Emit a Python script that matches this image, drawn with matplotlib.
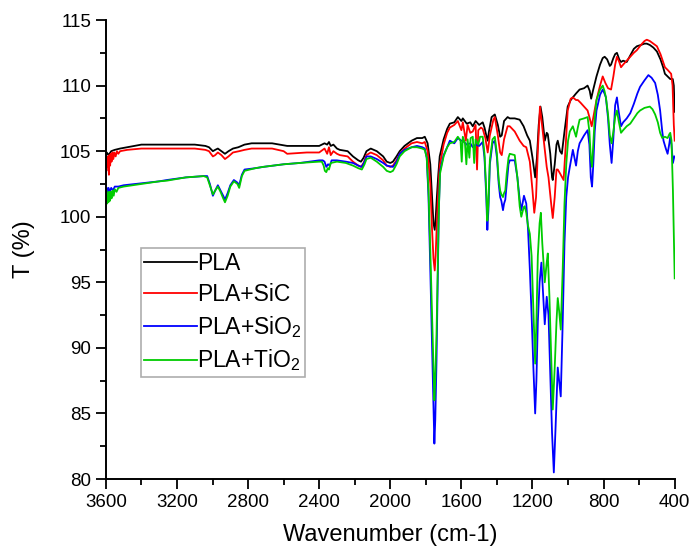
import matplotlib
matplotlib.use("Agg")
import matplotlib.pyplot as plt
from matplotlib.ticker import MultipleLocator

plt.rcParams['font.family'] = ['Liberation Sans', 'DejaVu Sans']
plt.rcParams['mathtext.fontset'] = 'custom'
plt.rcParams['mathtext.rm'] = 'Liberation Sans'
plt.rcParams['mathtext.it'] = 'Liberation Sans'
plt.rcParams['mathtext.default'] = 'regular'

labels = ["PLA", "PLA+SiC", r"PLA+SiO$_2$", r"PLA+TiO$_2$"]
colors = ["#000000", "#ff0000", "#0000ff", "#00cc00"]

pla = [
(3600,104.6),(3595,104.9),(3585,104.7),(3570,105.0),(3550,105.1),(3520,105.2),(3480,105.3),(3400,105.5),
(3300,105.5),(3200,105.5),(3100,105.5),(3040,105.4),(3020,105.3),(2998,105.0),(2985,105.1),(2970,105.2),
(2950,105.0),(2930,104.8),(2910,105.0),(2885,105.2),(2855,105.3),(2820,105.5),(2780,105.6),(2700,105.6),
(2665,105.6),(2580,105.4),(2470,105.4),(2400,105.4),(2370,105.6),(2355,105.5),(2345,105.7),(2335,105.4),
(2320,105.5),(2300,105.2),(2284,105.1),(2240,105.0),(2210,104.6),(2180,104.3),(2165,104.2),(2150,104.5),
(2134,105.0),(2110,105.2),(2076,105.0),(2040,104.6),(2020,104.2),(2000,104.1),(1985,104.2),(1965,104.6),
(1947,105.0),(1920,105.4),(1880,105.8),(1850,106.0),(1820,106.0),(1806,106.1),(1790,105.6),(1775,104.0),
(1765,101.5),(1757,99.5),(1750,99.0),(1745,99.8),(1738,101.5),(1730,103.2),(1722,104.6),(1700,105.9),
(1680,106.7),(1665,107.1),(1640,107.2),(1620,107.6),(1600,107.3),(1592,107.5),(1570,107.1),(1550,107.2),
(1536,106.9),(1520,107.3),(1500,107.0),(1480,107.2),(1470,106.8),(1460,106.2),(1452,105.8),(1445,106.5),
(1430,107.6),(1412,107.8),(1395,107.0),(1382,106.1),(1373,106.2),(1360,107.3),(1340,107.6),(1328,107.5),
(1300,107.5),(1272,107.4),(1250,106.9),(1230,106.2),(1215,105.8),(1200,104.5),(1185,103.0),(1175,104.5),
(1165,107.0),(1155,108.4),(1145,107.6),(1131,105.8),(1120,106.4),(1114,106.3),(1100,104.8),(1090,103.0),
(1086,102.8),(1075,104.0),(1065,105.5),(1058,105.8),(1045,105.0),(1035,104.8),(1020,106.5),(1002,108.4),
(985,108.9),(973,109.1),(955,109.4),(935,109.7),(910,109.8),(890,110.0),(878,109.6),(870,109.0),
(860,109.6),(840,110.7),(820,111.6),(805,112.1),(794,112.2),(780,112.0),(765,111.5),(758,111.6),
(745,112.1),(735,112.4),(725,112.5),(712,112.0),(702,111.8),(690,111.9),(670,111.8),(650,112.3),
(630,112.8),(613,113.0),(590,113.1),(570,113.2),(557,113.2),(540,113.1),(520,112.9),(500,112.6),
(480,112.0),(465,111.4),(455,110.9),(440,110.7),(425,110.5),(411,110.5),(405,110.0),(400,108.0)]

sic = [
(3600,104.3),(3597,103.5),(3594,104.5),(3590,103.8),(3587,104.6),(3583,103.2),(3580,104.7),(3576,103.9),
(3572,104.8),(3568,104.2),(3563,104.9),(3558,104.4),(3552,104.9),(3545,104.6),(3538,105.0),(3530,104.8),
(3520,105.0),(3480,105.1),(3400,105.2),(3300,105.2),(3100,105.2),(3040,105.1),(3020,105.0),(2998,104.6),
(2985,104.7),(2970,104.9),(2950,104.7),(2930,104.4),(2910,104.6),(2885,104.9),(2850,105.0),(2820,105.1),
(2780,105.2),(2665,105.2),(2600,105.0),(2580,104.8),(2470,104.9),(2400,104.9),(2370,105.2),(2355,104.8),
(2345,105.3),(2335,104.7),(2320,105.0),(2300,104.8),(2284,104.7),(2240,104.6),(2210,104.2),(2180,103.9),
(2165,103.8),(2150,104.1),(2134,104.7),(2110,104.9),(2076,104.7),(2040,104.3),(2020,103.9),(2000,103.8),
(1985,103.9),(1965,104.3),(1947,104.8),(1920,105.2),(1880,105.6),(1850,105.7),(1820,105.6),(1806,105.7),
(1790,105.0),(1775,102.5),(1765,99.0),(1757,96.8),(1750,95.9),(1745,97.0),(1738,99.5),(1730,102.0),
(1722,103.9),(1700,105.5),(1680,106.4),(1665,106.8),(1640,107.0),(1620,107.3),(1600,106.6),(1592,107.2),
(1575,105.8),(1565,107.0),(1550,106.4),(1536,106.5),(1520,107.0),(1512,103.6),(1505,106.6),(1490,106.8),
(1480,106.7),(1465,106.0),(1452,104.9),(1440,106.2),(1420,107.4),(1412,107.6),(1395,106.2),(1382,104.9),
(1373,104.7),(1360,105.9),(1340,106.9),(1328,106.9),(1300,106.5),(1272,105.8),(1250,105.4),(1235,105.3),
(1215,104.2),(1200,102.0),(1190,100.3),(1180,101.5),(1170,105.0),(1158,108.4),(1145,106.8),(1131,105.1),
(1120,103.8),(1110,103.0),(1095,101.0),(1086,99.9),(1075,101.5),(1065,103.6),(1058,103.6),(1045,103.3),
(1025,102.8),(1015,105.0),(1002,108.1),(985,109.0),(973,109.1),(955,108.9),(945,108.9),(930,108.7),
(910,108.4),(890,108.1),(878,107.5),(867,106.9),(855,107.8),(840,108.9),(820,110.0),(805,110.7),
(790,110.2),(775,109.8),(758,109.7),(745,110.7),(735,111.6),(725,112.2),(712,111.8),(702,111.4),
(690,111.6),(670,111.9),(650,112.2),(630,112.5),(613,112.7),(590,113.1),(570,113.4),(557,113.5),
(540,113.4),(520,113.2),(500,113.0),(480,112.4),(465,111.8),(455,111.4),(440,111.2),(420,110.9),
(412,110.0),(405,107.0),(400,105.8)]

sio2 = [
(3600,101.9),(3595,102.2),(3590,101.8),(3585,102.2),(3578,101.9),(3570,102.2),(3560,102.0),(3550,102.3),
(3530,102.3),(3500,102.4),(3400,102.55),(3300,102.7),(3257,102.8),(3150,103.0),(3050,103.1),(3030,103.1),
(3015,102.5),(2998,101.6),(2985,102.0),(2970,102.4),(2955,102.0),(2940,101.6),(2930,101.3),(2915,101.8),
(2900,102.4),(2880,102.8),(2860,102.6),(2850,102.4),(2835,103.2),(2820,103.6),(2760,103.7),(2716,103.8),
(2600,104.0),(2509,104.1),(2400,104.3),(2380,104.3),(2370,104.2),(2360,103.8),(2350,104.0),(2340,103.9),
(2330,104.3),(2300,104.3),(2250,104.2),(2210,104.1),(2180,103.9),(2160,103.8),(2145,104.2),(2134,104.6),
(2110,104.6),(2076,104.4),(2040,104.1),(2020,103.9),(1985,103.8),(1965,104.2),(1947,104.8),(1920,105.1),
(1880,105.3),(1850,105.4),(1820,105.3),(1806,105.2),(1795,104.5),(1785,101.5),(1775,96.0),(1765,90.0),
(1757,85.5),(1752,82.7),(1747,84.5),(1740,89.0),(1733,95.0),(1727,100.5),(1720,103.5),(1700,104.7),
(1680,105.3),(1665,105.8),(1640,105.6),(1620,106.0),(1600,105.8),(1592,105.8),(1570,105.5),(1550,105.6),
(1536,105.3),(1520,105.5),(1500,105.4),(1480,105.7),(1470,104.5),(1460,101.5),(1454,99.0),(1448,100.5),
(1440,104.0),(1425,105.6),(1412,105.8),(1400,104.5),(1390,102.5),(1382,101.5),(1375,101.2),(1366,100.5),
(1360,101.0),(1353,101.3),(1345,102.5),(1335,104.0),(1328,104.3),(1300,104.3),(1285,103.0),(1272,101.3),
(1263,100.5),(1248,101.6),(1235,101.0),(1225,99.0),(1215,96.0),(1205,92.5),(1195,88.5),(1185,85.0),
(1178,87.5),(1170,92.0),(1160,95.0),(1150,96.5),(1140,94.0),(1131,91.8),(1120,93.9),(1110,92.5),
(1100,88.0),(1090,83.5),(1080,80.5),(1070,84.0),(1058,88.5),(1050,87.5),(1041,86.3),(1030,92.0),
(1020,98.0),(1010,101.5),(1000,103.0),(990,103.8),(973,105.1),(955,103.9),(945,105.0),(935,105.6),
(910,106.2),(890,106.6),(880,105.5),(872,103.0),(865,102.3),(858,104.0),(850,106.5),(840,108.1),
(820,109.3),(805,109.7),(795,109.4),(787,109.1),(775,107.5),(765,105.5),(755,104.1),(745,106.0),
(735,108.5),(725,109.1),(715,108.0),(702,106.9),(690,107.2),(670,107.5),(650,107.9),(630,108.6),
(610,109.4),(595,109.9),(570,110.4),(548,110.8),(530,110.6),(510,110.2),(495,109.3),(482,108.1),
(470,106.5),(463,105.8),(450,105.2),(440,104.8),(430,105.6),(425,106.1),(418,105.5),(410,104.1),
(402,104.6)]

tio2 = [
(3600,101.3),(3597,102.0),(3594,101.0),(3590,101.8),(3586,101.1),(3582,101.9),(3578,101.2),(3573,101.9),
(3568,101.4),(3562,102.0),(3556,101.6),(3550,102.1),(3540,101.9),(3530,102.2),(3500,102.3),(3400,102.5),
(3300,102.7),(3257,102.75),(3150,103.0),(3050,103.1),(3030,103.0),(3015,102.4),(2998,101.7),(2985,102.0),
(2970,102.3),(2955,101.9),(2940,101.4),(2930,101.1),(2915,101.6),(2900,102.3),(2880,102.7),(2860,102.5),
(2850,102.2),(2835,103.1),(2820,103.5),(2760,103.7),(2716,103.8),(2600,104.0),(2509,104.1),(2400,104.2),
(2385,104.2),(2375,103.9),(2368,103.5),(2360,103.4),(2352,103.7),(2345,103.6),(2335,104.1),(2300,104.2),
(2250,104.1),(2210,103.9),(2180,103.7),(2160,103.6),(2145,104.0),(2134,104.4),(2110,104.5),(2076,104.2),
(2040,103.8),(2020,103.5),(2000,103.4),(1985,103.5),(1965,104.0),(1947,104.6),(1920,105.0),(1880,105.3),
(1850,105.3),(1820,105.2),(1806,105.1),(1795,104.5),(1785,102.0),(1775,97.5),(1765,92.5),(1757,88.5),
(1752,86.0),(1747,87.5),(1740,91.0),(1733,96.0),(1727,100.5),(1720,103.3),(1700,104.6),(1680,105.3),
(1665,105.6),(1640,105.7),(1620,106.1),(1605,105.8),(1598,104.2),(1592,106.1),(1580,105.6),(1572,104.0),
(1565,105.9),(1555,104.5),(1548,106.0),(1536,106.1),(1528,104.1),(1520,105.9),(1505,105.5),(1495,106.1),
(1480,106.1),(1470,104.8),(1460,102.0),(1454,99.7),(1448,101.0),(1440,104.3),(1425,105.9),(1412,106.1),
(1400,104.8),(1390,102.8),(1382,102.0),(1375,101.7),(1366,101.5),(1360,101.8),(1353,102.0),(1345,103.3),
(1335,104.5),(1328,104.8),(1300,104.7),(1285,103.0),(1272,100.8),(1263,100.0),(1250,100.7),(1244,100.8),
(1235,100.3),(1225,99.3),(1215,98.7),(1205,97.0),(1195,93.0),(1185,88.8),(1178,92.0),(1170,97.0),
(1160,99.5),(1153,100.3),(1145,98.0),(1131,95.0),(1120,96.5),(1114,97.2),(1105,94.0),(1095,89.5),
(1086,85.3),(1075,88.5),(1065,92.0),(1058,93.8),(1050,92.8),(1041,91.4),(1030,96.0),(1020,101.0),
(1010,104.0),(1000,105.8),(990,106.5),(973,106.9),(955,106.1),(945,106.8),(935,107.4),(910,107.5),
(890,107.6),(880,106.5),(872,104.5),(865,103.8),(858,105.5),(850,107.5),(840,108.9),(820,109.7),
(805,110.0),(795,109.6),(787,109.1),(775,107.8),(765,106.2),(755,105.6),(745,106.5),(735,107.6),
(725,108.1),(715,107.3),(702,106.4),(690,106.6),(670,106.9),(650,107.1),(630,107.5),(610,107.9),
(595,108.1),(570,108.3),(540,108.4),(525,108.2),(510,107.8),(495,107.2),(482,106.4),(470,106.0),
(455,106.1),(440,106.0),(430,106.3),(425,106.4),(418,105.8),(410,102.0),(405,98.5),(400,95.3)]

series = [pla, sic, sio2, tio2]

fig = plt.figure(figsize=(6.92, 5.49), dpi=100)
ax = fig.add_axes([0.153, 0.1275, 0.822, 0.836])

for data, lab, col in zip(series, labels, colors):
    xs = [p[0] for p in data]
    ys = [p[1] for p in data]
    ax.plot(xs, ys, color=col, lw=1.3, label=lab)

ax.set_xlim(3600, 400)
ax.set_ylim(80, 115)
ax.xaxis.set_major_locator(MultipleLocator(400))
ax.xaxis.set_minor_locator(MultipleLocator(200))
ax.yaxis.set_major_locator(MultipleLocator(5))
ax.yaxis.set_minor_locator(MultipleLocator(2.5))
for s in ['top', 'right']:
    ax.spines[s].set_visible(False)
for s in ['left', 'bottom']:
    ax.spines[s].set_linewidth(1.4)
ax.tick_params(which='major', direction='out', length=7, width=1.3, labelsize=13.5)
ax.tick_params(which='minor', direction='out', length=4, width=1.3)
ax.set_xlabel("Wavenumber (cm-1)", fontsize=17, labelpad=10)
ax.set_ylabel("T (%)", fontsize=17, labelpad=18)

leg = ax.legend(loc='upper left', bbox_to_anchor=(0.0615, 0.503), borderaxespad=0,
                fontsize=16.5, frameon=True, fancybox=False, handlelength=2.3,
                handletextpad=0.0, labelspacing=0.35, borderpad=0.15)
leg.get_frame().set_edgecolor('#999999')
leg.get_frame().set_linewidth(1.2)

fig.savefig("out.png", dpi=100)
